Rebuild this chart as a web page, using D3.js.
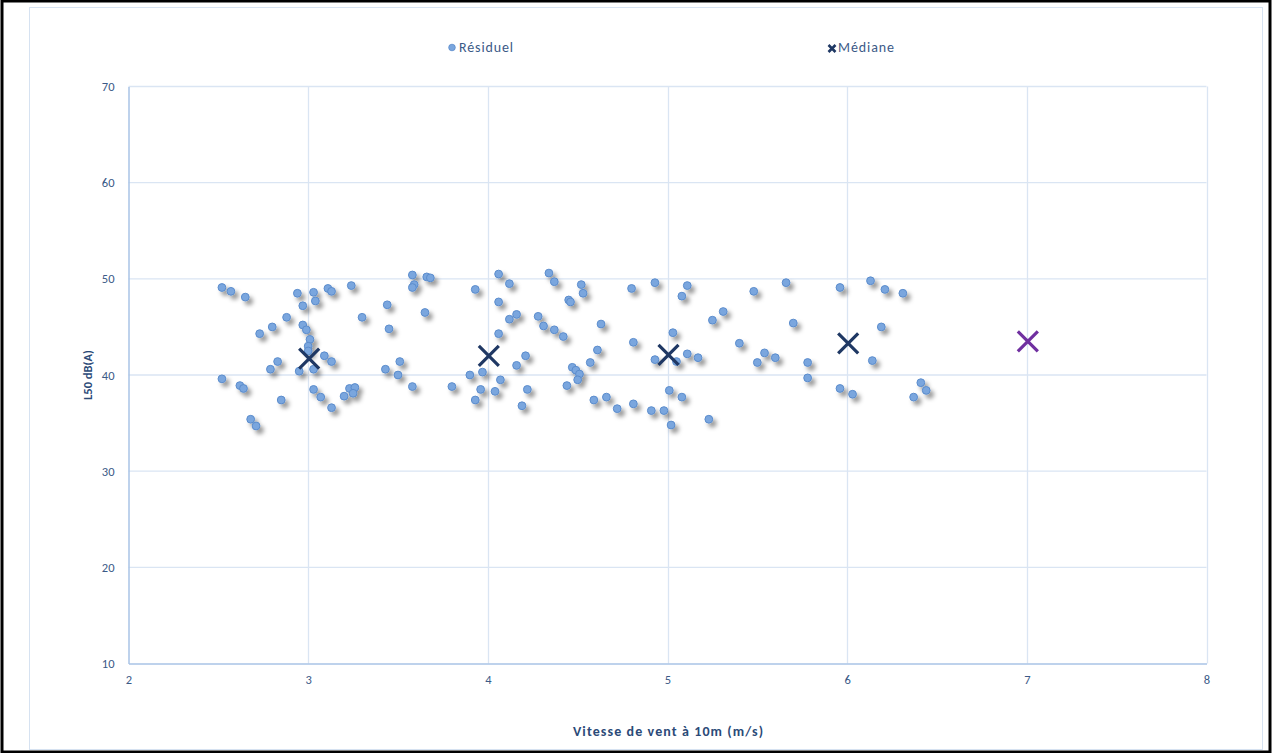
<!DOCTYPE html>
<html><head><meta charset="utf-8">
<script src="https://cdn.jsdelivr.net/npm/d3@7"></script>
<style>
html,body{margin:0;padding:0;background:#fff;}
svg{display:block;font-family:Carlito,Calibri,Lato,"Open Sans",sans-serif;}
</style></head>
<body>
<svg id="chart" width="1272" height="753"></svg>
<script>
// Résiduel series
const residuelX = [2.52,2.57,2.65,2.94,3.03,3.11,3.13,3.24,3.04,2.97,3.44,2.88,2.80,2.73,2.97,2.99,3.01,3.00,3.09,3.13,2.83,2.79,2.95,3.03,3.43,3.50,3.51,2.52,2.62,2.64,2.85,3.03,3.07,3.13,3.20,3.23,3.26,3.25,2.68,2.71,3.30,3.45,3.00,
3.58,3.66,3.68,3.59,3.58,3.93,4.06,4.12,4.34,4.37,4.52,4.53,3.65,4.06,4.45,4.46,4.16,4.12,4.28,4.31,4.37,4.42,4.06,3.58,3.80,3.90,3.97,4.21,4.16,4.07,3.96,4.04,3.93,4.22,4.19,4.44,4.47,4.49,4.51,4.50,4.57,
4.80,4.93,5.11,5.08,5.48,5.31,5.25,4.63,5.03,4.81,4.61,5.40,4.93,5.11,5.17,5.05,5.54,5.50,5.60,4.59,4.66,4.72,4.81,4.91,4.98,5.01,5.08,5.02,5.23,
5.66,5.96,6.13,6.21,6.31,5.70,6.19,5.78,5.78,6.14,5.96,6.03,6.41,6.44,6.37];
const residuelY = [49.1,48.7,48.1,48.5,48.6,49.0,48.7,49.3,47.7,47.2,47.3,46.0,45.0,44.3,45.2,44.7,43.7,43.0,42.0,41.4,41.4,40.6,40.4,40.6,40.6,40.0,41.4,39.6,38.9,38.6,37.4,38.5,37.7,36.6,37.8,38.6,38.7,38.1,35.4,34.7,46.0,44.8,42.5,
50.4,50.2,50.1,49.4,49.1,48.9,50.5,49.5,50.6,49.7,49.4,48.5,46.5,47.6,47.8,47.6,46.3,45.8,46.1,45.1,44.7,44.0,44.3,38.8,38.8,40.0,40.3,42.0,41.0,39.5,38.5,38.3,37.4,38.5,36.8,38.9,40.8,40.5,40.1,39.5,41.3,
49.0,49.6,49.3,48.2,48.7,46.6,45.7,45.3,44.4,43.4,42.6,43.3,41.6,42.2,41.8,41.4,42.3,41.3,41.8,37.4,37.7,36.5,37.0,36.3,36.3,38.4,37.7,34.8,35.4,
49.6,49.1,49.8,48.9,48.5,45.4,45.0,41.3,39.7,41.5,38.6,38.0,39.2,38.4,37.7];
// Médiane series
const medianeX = [3,4,5,6,7];
const medianeY = [41.7,42.0,42.1,43.3,43.5];
const medianeColors = ["#1f3864","#1f3864","#1f3864","#1f3864","#7030a0"];
// Axes
const xTicks = [2,3,4,5,6,7,8];
const yTicks = [10,20,30,40,50,60,70];
const xTitle = "Vitesse de vent à 10m (m/s)";
const yTitle = "L50 dB(A)";
const legendLabels = ["Résiduel","Médiane"];

const svg = d3.select("#chart");
const W = 1272, H = 753;
// outer frame
svg.append("rect").attr("x",2).attr("y",1).attr("width",W-4).attr("height",H-2)
  .attr("fill","#fff").attr("stroke","#000").attr("stroke-width",3);
svg.append("rect").attr("x",29.5).attr("y",7.5).attr("width",1233).attr("height",742)
  .attr("fill","none").attr("stroke","#d6e2f1").attr("stroke-width",1);

const defs = svg.append("defs");
const f = defs.append("filter").attr("id","shadow").attr("x","-50%").attr("y","-50%").attr("width","250%").attr("height","250%");
f.append("feDropShadow").attr("dx",3.5).attr("dy",4).attr("stdDeviation",2)
  .attr("flood-color","#000").attr("flood-opacity",0.4);

const x = d3.scaleLinear().domain([2,8]).range([128.5,1206.5]);
const y = d3.scaleLinear().domain([10,70]).range([663.5,86.5]);

const grid = svg.append("g");
grid.selectAll("line.v").data(xTicks.slice(1)).join("line")
  .attr("x1",d=>Math.round(x(d))+0.5).attr("x2",d=>Math.round(x(d))+0.5)
  .attr("y1",y(70)).attr("y2",y(10)).attr("stroke","#dae5f3").attr("stroke-width",1.3);
grid.selectAll("line.h").data(yTicks.slice(1)).join("line")
  .attr("x1",x(2)).attr("x2",x(8))
  .attr("y1",d=>y(d)).attr("y2",d=>y(d)).attr("stroke","#dae5f3").attr("stroke-width",1.3);

const tickColor = "#3b5a87";
const xAxis = d3.axisBottom(x).tickValues(xTicks).tickSize(0).tickPadding(12).tickFormat(d3.format("d"));
const gx = svg.append("g").attr("transform",`translate(0,${y(10)})`).call(xAxis);
gx.select(".domain").attr("stroke","#a9c3e6").attr("stroke-width",1.5);
gx.selectAll("text").attr("fill",tickColor).attr("font-size",12.5).attr("font-family","Carlito,Calibri,Lato,sans-serif");

const yAxis = d3.axisLeft(y).tickValues(yTicks).tickSize(0).tickPadding(14).tickFormat(d3.format("d"));
const gy = svg.append("g").attr("transform",`translate(${x(2)},0)`).call(yAxis);
gy.select(".domain").attr("stroke","#a9c3e6").attr("stroke-width",1.5);
gy.selectAll("text").attr("fill",tickColor).attr("font-size",12.5).attr("font-family","Carlito,Calibri,Lato,sans-serif");

// titles
svg.append("text").attr("x",668).attr("y",736).attr("text-anchor","middle")
  .attr("font-size",14).attr("font-weight","bold").attr("fill","#2b4a78")
  .attr("textLength",190).attr("lengthAdjust","spacing").text(xTitle);
svg.append("text").attr("transform",`translate(92,${y(40)}) rotate(-90)`).attr("text-anchor","middle")
  .attr("font-size",12.5).attr("font-weight","bold").attr("fill","#2b4a78")
  .attr("textLength",50).attr("lengthAdjust","spacing").text(yTitle);

// residual points
const pts = residuelX.map((v,i)=>({x:v,y:residuelY[i]}));
svg.append("g").attr("filter","url(#shadow)").selectAll("circle").data(pts).join("circle")
  .attr("cx",d=>x(d.x)).attr("cy",d=>y(d.y)).attr("r",3.9)
  .attr("fill","#7aa6de").attr("stroke","#5b8ccc").attr("stroke-width",1);

// medians
const med = medianeX.map((v,i)=>({x:v,y:medianeY[i],c:medianeColors[i]}));
const s = 10;
const mg = svg.append("g").selectAll("g").data(med).join("g")
  .attr("transform",d=>`translate(${x(d.x)+1},${y(d.y)})`);
mg.append("path").attr("d",`M${-s},${-s}L${s},${s}M${-s},${s}L${s},${-s}`)
  .attr("stroke",d=>d.c).attr("stroke-width",3.2).attr("fill","none");

// legend
const lg = svg.append("g").attr("font-size",14).attr("fill",tickColor);
lg.append("circle").attr("cx",452).attr("cy",47.5).attr("r",3.3).attr("fill","#7aa6de").attr("stroke","#5b8ccc").attr("stroke-width",0.8);
lg.append("text").attr("x",459).attr("y",52).attr("textLength",54).attr("lengthAdjust","spacing").text(legendLabels[0]);
lg.append("path").attr("d","M828.5,45L835.5,52M828.5,52L835.5,45").attr("stroke","#1f3864").attr("stroke-width",2.6);
lg.append("text").attr("x",838).attr("y",52).attr("textLength",56).attr("lengthAdjust","spacing").text(legendLabels[1]);
</script>
</body></html>
